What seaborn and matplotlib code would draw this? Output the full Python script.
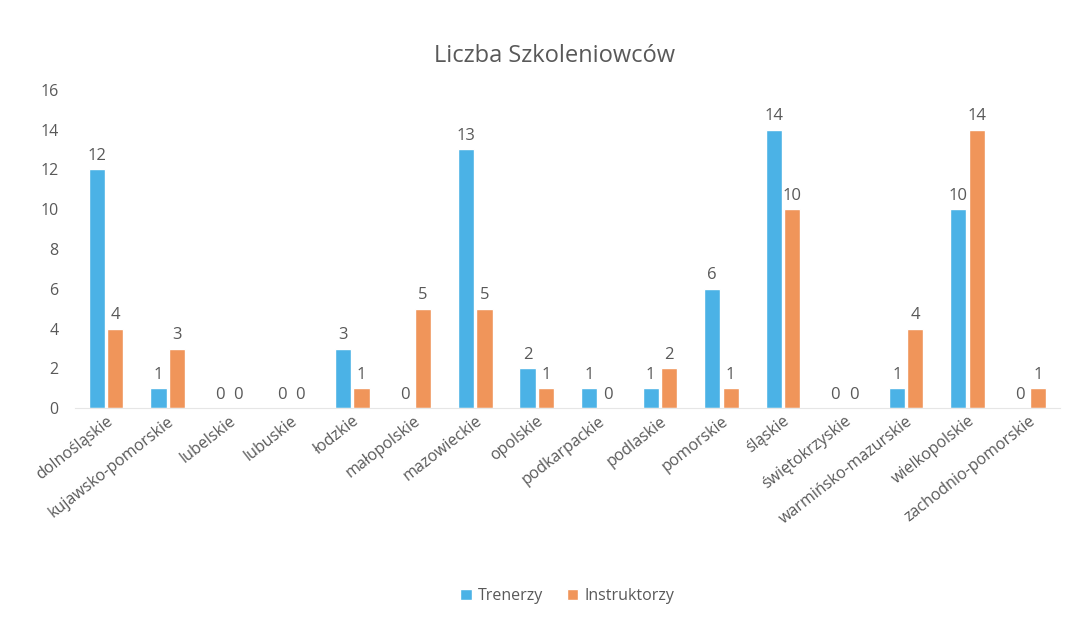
import matplotlib.pyplot as plt
import seaborn as sns
import pandas as pd

# data
regions = ['dolnośląskie', 'kujawsko-pomorskie', 'lubelskie', 'lubuskie', 'łodzkie',
           'małopolskie', 'mazowieckie', 'opolskie', 'podkarpackie', 'podlaskie',
           'pomorskie', 'śląskie', 'świętokrzyskie', 'warmińsko-mazurskie',
           'wielkopolskie', 'zachodnio-pomorskie']
trenerzy = [12, 1, 0, 0, 3, 0, 13, 2, 1, 1, 6, 14, 0, 1, 10, 0]
instruktorzy = [4, 3, 0, 0, 1, 5, 5, 1, 0, 2, 1, 10, 0, 4, 14, 1]

df = pd.DataFrame({'region': regions * 2,
                   'value': trenerzy + instruktorzy,
                   'series': ['Trenerzy'] * len(regions) + ['Instruktorzy'] * len(regions)})

sns.set_style('white')
plt.rcParams['font.family'] = ['Open Sans', 'DejaVu Sans']
text_col = '#595959'

fig = plt.figure(figsize=(10.76, 6.32), dpi=100)
ax = fig.add_axes([0.07, 0.354, 0.915, 0.504])

sns.barplot(data=df, x='region', y='value', hue='series',
            palette={'Trenerzy': '#4BB2E6', 'Instruktorzy': '#F0955A'},
            saturation=1, width=0.6, gap=0.12, ax=ax)

for c in ax.containers:
    ax.bar_label(c, padding=4, fontsize=12, color=text_col)

ax.set_ylim(0, 16)
ax.set_yticks(range(0, 17, 2))
ax.set_xlim(-0.5, len(regions) - 0.5)
ax.set(xlabel='', ylabel='')
ax.tick_params(axis='y', labelsize=11.5, labelcolor=text_col, length=0, pad=12)
ax.tick_params(axis='x', labelsize=11.5, labelcolor=text_col, length=0)
plt.setp(ax.get_xticklabels(), rotation=38, ha='right', rotation_mode='anchor')

for s in ['top', 'right', 'left']:
    ax.spines[s].set_visible(False)
ax.spines['bottom'].set_color('#e6e6e6')

ax.legend(loc='lower center', bbox_to_anchor=(0.5, -0.66), ncol=2, frameon=False,
          fontsize=11.5, labelcolor=text_col, handlelength=0.7, handleheight=0.7,
          columnspacing=1.5, handletextpad=0.4)

fig.suptitle('Liczba Szkoleniowców', x=0.515, y=0.93, fontsize=17, color=text_col)

plt.savefig('out.png')
